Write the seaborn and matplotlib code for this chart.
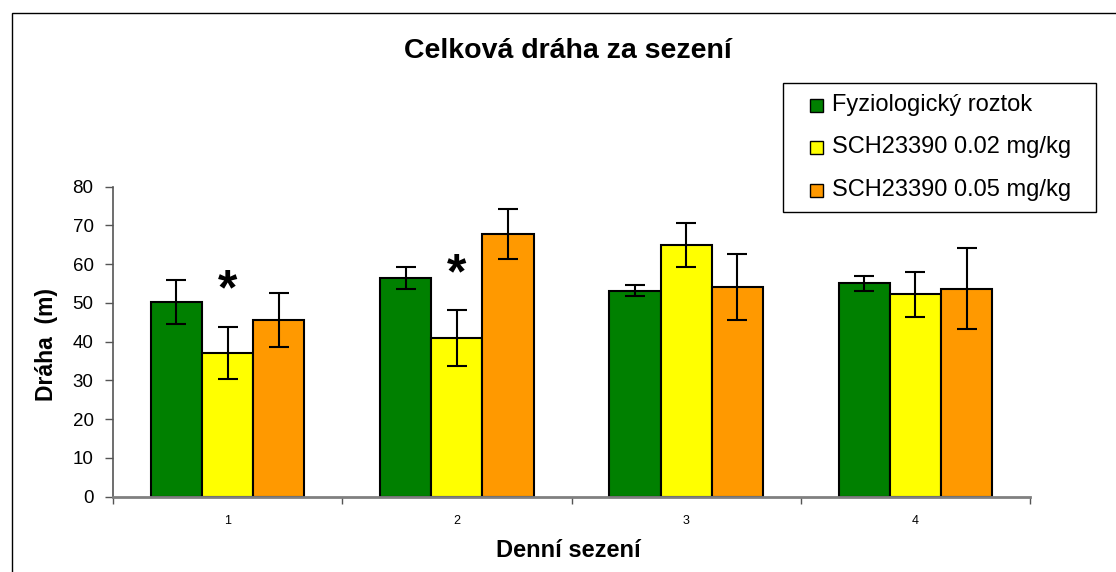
import matplotlib
matplotlib.use('Agg')
import matplotlib.pyplot as plt
from matplotlib.patches import Rectangle
from matplotlib.legend_handler import HandlerPatch
import numpy as np
import pandas as pd
import seaborn as sns

sns.set_style('white')
plt.rcParams['font.family'] = ['Liberation Sans', 'DejaVu Sans']
plt.rcParams['text.color'] = 'black'
plt.rcParams['axes.labelcolor'] = 'black'
plt.rcParams['xtick.color'] = 'black'
plt.rcParams['ytick.color'] = 'black'

# data
sessions = ['1', '2', '3', '4']
groups = ['Fyziologický roztok', 'SCH23390 0.02 mg/kg', 'SCH23390 0.05 mg/kg']
saline = [50.3, 56.4, 53.2, 55.1]
sch002 = [37.1, 40.9, 65.0, 52.2]
sch005 = [45.6, 67.8, 54.1, 53.7]
saline_err = [5.7, 2.8, 1.4, 1.9]
sch002_err = [6.8, 7.3, 5.7, 5.7]
sch005_err = [7.0, 6.4, 8.5, 10.4]
significant = [(0, 1), (1, 1)]  # (session index, group index) marked with *
colors = ['#008000', '#FFFF00', '#FF9900']

means = [saline, sch002, sch005]
errs = [saline_err, sch002_err, sch005_err]
df = pd.DataFrame({
    'session': sessions * 3,
    'group': [g for g in groups for _ in sessions],
    'value': saline + sch002 + sch005,
})

fig = plt.figure(figsize=(11.16, 5.72), dpi=100)
ax = fig.add_axes([113 / 1116, 1 - 496.7 / 572, 917 / 1116, 310 / 572])

sns.barplot(data=df, x='session', y='value', hue='group', order=sessions,
            hue_order=groups, palette=colors, width=0.67, edgecolor='black',
            linewidth=1.5, errorbar=None, saturation=1, ax=ax)

# error bars + significance stars
bar_containers = list(ax.containers)
for gi, cont in enumerate(bar_containers):
    xs = [b.get_x() + b.get_width() / 2 for b in cont]
    ax.errorbar(xs, means[gi], yerr=errs[gi], fmt='none', ecolor='black',
                elinewidth=1.5, capsize=7, capthick=1.5, zorder=5)
    for si, g in significant:
        if g == gi:
            ax.text(xs[si], means[gi][si] + errs[gi][si] + 9, '*', ha='center',
                    va='center', fontsize=36, fontweight='bold')

ax.set_xlim(-0.5, 3.5)
ax.set_ylim(0, 80)
ax.set_yticks(range(0, 81, 10))
ax.tick_params(axis='y', labelsize=13.5, length=6, width=1, color='#555555',
               direction='out', pad=8, left=True)
ax.set_xticks(range(4))
ax.set_xticks(np.arange(-0.5, 4, 1), minor=True)
ax.tick_params(axis='x', which='major', length=0, labelsize=9, pad=13)
ax.tick_params(axis='x', which='minor', length=5, width=1, color='#555555',
               direction='out', bottom=True)
for s in ['top', 'right']:
    ax.spines[s].set_visible(False)
ax.spines['left'].set_color('#555555')
ax.spines['left'].set_linewidth(1.2)
ax.spines['bottom'].set_color('#808080')
ax.spines['bottom'].set_linewidth(2)

ax.set_ylabel('Dráha  (m)', fontsize=16.5, fontweight='bold')
ax.yaxis.set_label_coords(-0.060, 0.49)
ax.set_xlabel('Denní sezení', fontsize=17, fontweight='bold')
ax.xaxis.set_label_coords(0.497, -0.135)

fig.text(568 / 1116, 1 - 51 / 572, 'Celková dráha za sezení', ha='center',
         va='center', fontsize=20.5, fontweight='bold')


def small_square(legend, orig_handle, xdescent, ydescent, width, height, fontsize):
    s = 0.55 * fontsize
    return Rectangle((-xdescent + width - s, -ydescent + (height - s) / 2 - 2), s, s)


handles, labels = ax.get_legend_handles_labels()
ax.get_legend().remove()
leg = fig.legend(handles, labels, loc='upper left', mode='expand',
                 bbox_to_anchor=(783 / 1116, 1 - 83 / 572, 313 / 1116, 0.0001),
                 borderaxespad=0,
                 fontsize=17, frameon=True, fancybox=False, framealpha=1,
                 edgecolor='black', handlelength=1.23, handleheight=0.7,
                 handletextpad=0.38, labelspacing=0.87, borderpad=0.46,
                 handler_map={matplotlib.patches.Rectangle: HandlerPatch(patch_func=small_square)})
leg.get_frame().set_linewidth(1)
for h in leg.legend_handles:
    h.set_edgecolor('black')
    h.set_linewidth(1)

# outer chart frame
fig.add_artist(Rectangle((12 / 1116, -0.1), 1.2, 1.1 - 13 / 572, fill=False,
                         edgecolor='black', linewidth=1, transform=fig.transFigure))

fig.savefig('out.png', dpi=100)
